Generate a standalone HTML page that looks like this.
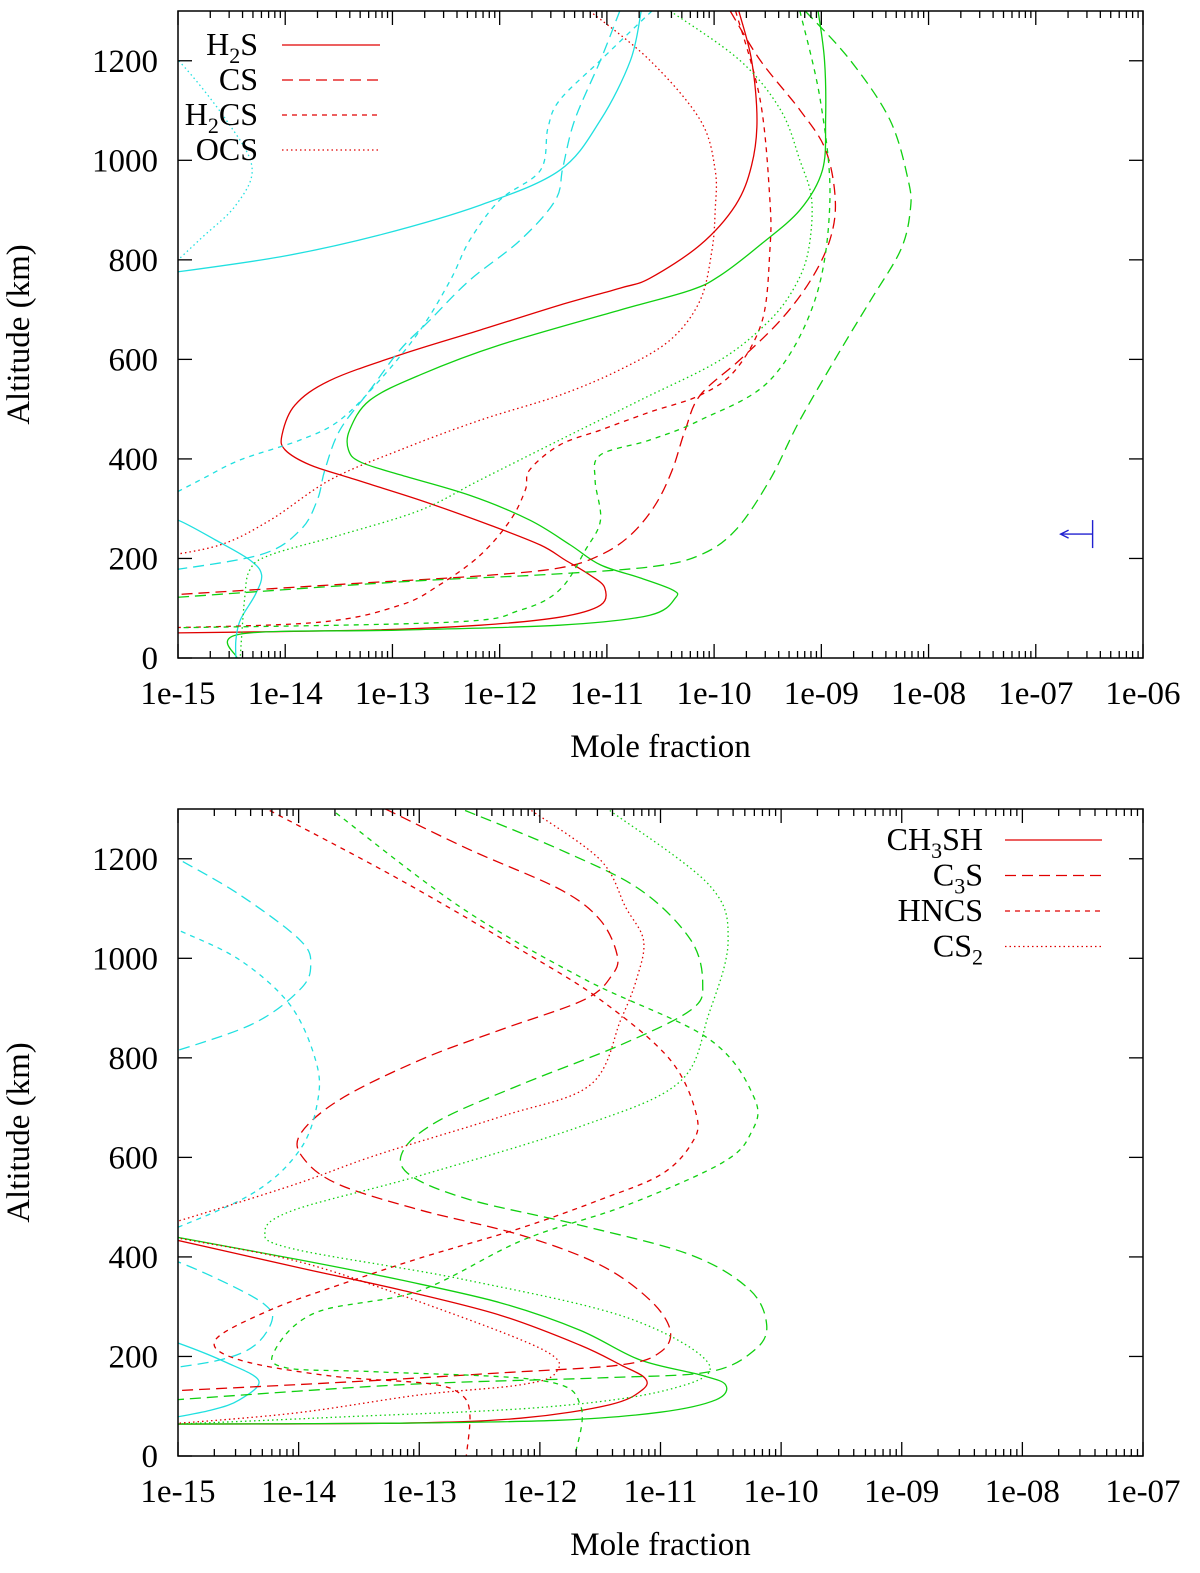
<!DOCTYPE html>
<html><head><meta charset="utf-8"><style>
body{margin:0;background:#fff;}
svg{display:block;font-family:"Liberation Serif",serif;}
</style></head><body>
<svg id="chart" width="1200" height="1573" viewBox="0 0 1200 1573" xmlns="http://www.w3.org/2000/svg"></svg>
<script>
// ---- data: points are [log10(mole fraction), altitude km] ----
const topTicksX = ["1e-15","1e-14","1e-13","1e-12","1e-11","1e-10","1e-09","1e-08","1e-07","1e-06"];
const botTicksX = ["1e-15","1e-14","1e-13","1e-12","1e-11","1e-10","1e-09","1e-08","1e-07"];
const ticksY = [0,200,400,600,800,1000,1200];

const topRedSolid = [[-9.77,1300],[-9.65,1201],[-9.60,1081],[-9.65,990],[-9.80,910],[-10.13,830],[-10.60,763],[-10.88,743],[-11.44,709],[-12.18,659],[-12.93,609],[-13.58,558],[-13.91,508],[-14.03,448],[-14.00,418],[-13.77,388],[-13.40,362],[-12.74,317],[-12.09,267],[-11.62,227],[-11.39,197],[-11.16,167],[-11.02,141],[-11.06,106],[-11.44,82],[-12.18,66],[-13.21,56],[-15.2,50]];
const topGreenSolid = [[-9.03,1300],[-8.97,1201],[-8.96,1081],[-8.99,980],[-9.20,900],[-9.57,830],[-9.94,769],[-10.22,739],[-10.88,699],[-12.00,629],[-12.74,569],[-13.21,518],[-13.40,458],[-13.41,418],[-13.30,394],[-12.93,368],[-12.28,327],[-11.72,277],[-11.34,227],[-11.06,187],[-10.69,161],[-10.39,137],[-10.36,121],[-10.60,86],[-11.44,66],[-12.93,56],[-14.42,48],[-14.45,0]];
const topCyanSolidA = [[-10.68,1300],[-10.78,1201],[-11.06,1081],[-11.44,980],[-12.18,910],[-13.12,850],[-14.05,806],[-15.2,770]];
const topCyanSolidB = [[-15.2,285],[-15,277],[-14.65,237],[-14.33,197],[-14.22,167],[-14.28,127],[-14.42,76],[-14.46,36],[-14.46,0]];
const topRedLong = [[-9.85,1300],[-9.57,1201],[-9.20,1101],[-8.96,1021],[-8.87,920],[-8.92,840],[-9.10,759],[-9.38,679],[-9.76,599],[-10.13,528],[-10.27,458],[-10.39,378],[-10.55,307],[-10.78,247],[-11.06,207],[-11.44,181],[-12.18,165],[-13.40,149],[-15.2,125]];
const topGreenLong = [[-9.15,1300],[-8.73,1201],[-8.36,1081],[-8.19,960],[-8.17,900],[-8.26,820],[-8.54,719],[-8.82,619],[-9.20,478],[-9.48,358],[-9.80,257],[-10.13,207],[-10.60,183],[-11.62,167],[-12.93,153],[-15.2,119]];
const topRedShort = [[-9.80,1300],[-9.57,1121],[-9.48,920],[-9.48,820],[-9.55,679],[-9.80,579],[-10.13,528],[-10.60,494],[-11.06,458],[-11.44,428],[-11.72,378],[-11.76,338],[-11.90,277],[-12.18,207],[-12.56,147],[-12.93,106],[-13.68,72],[-15.2,60]];
const topGreenShort = [[-9.20,1300],[-9.01,1121],[-8.92,920],[-9.06,719],[-9.48,558],[-10.13,478],[-10.60,438],[-11.06,408],[-11.11,358],[-11.06,277],[-11.20,217],[-11.44,137],[-11.81,96],[-12.46,72],[-15.2,60]];
const topCyanLong = [[-10.88,1300],[-11.06,1201],[-11.30,1081],[-11.41,986],[-11.48,920],[-11.81,839],[-12.28,759],[-12.65,679],[-12.93,619],[-13.21,538],[-13.49,458],[-13.63,378],[-13.70,318],[-13.86,257],[-14.24,207],[-15.2,172]];
const topCyanShort = [[-10.58,1300],[-11.06,1201],[-11.44,1121],[-11.55,1065],[-11.62,980],[-12.00,920],[-12.28,839],[-12.46,759],[-12.74,659],[-13.12,558],[-13.49,478],[-13.86,438],[-14.42,398],[-14.79,358],[-15.2,312]];
const topCyanDot = [[-15.2,1230],[-14.98,1197],[-14.55,1081],[-14.31,986],[-14.46,910],[-14.79,842],[-15.2,760]];
const topRedDot = [[-11.16,1300],[-10.60,1201],[-10.13,1081],[-9.99,980],[-9.99,900],[-10.02,820],[-10.13,719],[-10.41,639],[-10.88,579],[-11.44,528],[-12.18,478],[-12.93,418],[-13.58,358],[-14.14,277],[-14.61,227],[-15.2,202]];
const topGreenDot = [[-10.41,1300],[-9.76,1201],[-9.38,1101],[-9.20,1000],[-9.09,920],[-9.12,820],[-9.24,749],[-9.48,679],[-9.94,599],[-10.69,518],[-11.44,438],[-12.18,358],[-12.74,297],[-13.49,247],[-14.14,207],[-14.33,177],[-14.38,117],[-14.42,0]];
const topLimit = [-6.47,249];

const botRedSolid = [[-15.2,444],[-13.99,378],[-13.16,334],[-12.33,283],[-11.67,223],[-11.33,183],[-11.13,157],[-11.15,133],[-11.42,103],[-12.16,76],[-13.16,66],[-15.2,64]];
const botGreenSolid = [[-15.2,448],[-13.99,394],[-13.16,354],[-12.33,308],[-11.67,253],[-11.17,193],[-10.67,163],[-10.46,143],[-10.54,113],[-11.0,88],[-11.83,72],[-13.16,66],[-15.2,64]];
const botCyanSolid = [[-15.2,240],[-15,227],[-14.61,189],[-14.33,151],[-14.49,113],[-14.73,92],[-15.2,70]];
const botRedLong = [[-13.28,1300],[-12.58,1218],[-11.83,1138],[-11.50,1077],[-11.36,1007],[-11.40,967],[-11.63,917],[-12.33,856],[-12.99,796],[-13.66,716],[-13.99,645],[-13.95,595],[-13.66,545],[-12.99,494],[-12.16,444],[-11.50,384],[-11.09,314],[-10.92,253],[-11.0,209],[-11.33,183],[-12.33,167],[-13.57,149],[-15.2,129]];
const botGreenLong = [[-12.62,1297],[-11.83,1218],[-11.17,1138],[-10.75,1037],[-10.65,949],[-10.75,896],[-11.33,826],[-12.16,746],[-12.83,675],[-13.13,615],[-13.08,565],[-12.58,515],[-11.67,464],[-10.75,404],[-10.26,334],[-10.12,263],[-10.22,213],[-10.60,169],[-11.50,157],[-13.16,143],[-15.2,110]];
const botRedShort = [[-14.24,1297],[-13.16,1158],[-12.16,1017],[-11.50,917],[-10.92,796],[-10.70,683],[-10.75,625],[-11.0,565],[-11.50,515],[-12.16,458],[-12.99,398],[-13.66,344],[-14.24,293],[-14.69,233],[-14.49,193],[-13.74,161],[-12.91,145],[-12.65,123],[-12.58,82],[-12.61,0]];
const botGreenShort = [[-13.69,1292],[-12.66,1103],[-11.63,958],[-10.60,838],[-10.22,718],[-10.25,649],[-10.49,589],[-11.29,503],[-12.14,434],[-13.0,332],[-13.86,288],[-14.20,211],[-14.10,177],[-13.34,169],[-11.97,151],[-11.66,99],[-11.71,0]];
const botRedDot = [[-12.07,1297],[-11.50,1198],[-11.29,1103],[-11.14,1035],[-11.20,957],[-11.33,876],[-11.58,746],[-12.31,683],[-13.35,605],[-14.04,545],[-15,472],[-15.3,454],[-15,438],[-13.99,390],[-13.0,310],[-11.97,213],[-11.87,167],[-12.16,143],[-12.99,123],[-14.04,86],[-15.2,62]];
const botGreenDot = [[-11.42,1297],[-10.60,1148],[-10.44,1035],[-10.60,888],[-10.84,752],[-11.63,665],[-13.0,563],[-14.04,494],[-14.28,450],[-14.04,416],[-12.66,356],[-11.29,279],[-10.60,185],[-10.94,133],[-11.97,98],[-13.69,78],[-15.2,62]];
const botCyanLongA = [[-15.2,1230],[-15,1200],[-14.49,1128],[-13.99,1037],[-13.90,987],[-13.99,937],[-14.40,866],[-15.2,800]];
const botCyanShort = [[-15.2,1080],[-15,1057],[-14.49,997],[-14.07,906],[-13.86,796],[-13.84,716],[-13.99,615],[-14.40,525],[-15.2,440]];
const botCyanLongB = [[-15.2,400],[-15,390],[-14.57,344],[-14.28,304],[-14.22,273],[-14.36,223],[-14.65,193],[-15.2,172]];

const RED="#e00000", GREEN="#10d010", CYAN="#20e0e0";
const STY={solid:"none", long:"11,6", short:"5,5", dot:"1.5,3"};

const NS="http://www.w3.org/2000/svg";
const root=document.getElementById("chart");
function mk(tag,attrs,parent){const e=document.createElementNS(NS,tag);for(const k in attrs)e.setAttribute(k,attrs[k]);(parent||root).appendChild(e);return e;}

function smoothPath(pts){
  let d="M"+pts[0][0].toFixed(1)+","+pts[0][1].toFixed(1);
  for(let i=0;i<pts.length-1;i++){
    const p0=pts[i-1]||pts[i],p1=pts[i],p2=pts[i+1],p3=pts[i+2]||p2;
    const c1=[p1[0]+(p2[0]-p0[0])/6,p1[1]+(p2[1]-p0[1])/6];
    const c2=[p2[0]-(p3[0]-p1[0])/6,p2[1]-(p3[1]-p1[1])/6];
    d+=" C"+c1[0].toFixed(1)+","+c1[1].toFixed(1)+" "+c2[0].toFixed(1)+","+c2[1].toFixed(1)+" "+p2[0].toFixed(1)+","+p2[1].toFixed(1);
  }
  return d;
}

function addLegendText(parent,x,y,parts){
  const t=mk("text",{x:x,y:y,"text-anchor":"end","font-size":32},parent);
  parts.forEach(p=>{
    const ts=mk("tspan",{},t);
    if(p.sub){ts.setAttribute("font-size","22");ts.setAttribute("dy","8");}
    else if(p.after){ts.setAttribute("dy","-8");}
    ts.textContent=p.t;
  });
  return t;
}

function panel(p){
  const g=mk("g",{});
  
  
  const x=v=>p.x0+(v-p.xmin)/(p.xmax-p.xmin)*(p.x1-p.x0);
  const y=a=>p.y0-a/1300*(p.y0-p.y1);
  const cid=p.name+"-clip";
  const cp=mk("clipPath",{id:cid},g);
  mk("rect",{x:p.x0,y:p.y1,width:p.x1-p.x0,height:p.y0-p.y1},cp);
  const cg=mk("g",{"clip-path":"url(#"+cid+")"},g);
  p.series.forEach(s=>{
    const path=mk("path",{d:smoothPath(s.data.map(q=>[x(q[0]),y(q[1])])),fill:"none",stroke:s.color,"stroke-width":1.3,"stroke-dasharray":STY[s.style]},cg);
    
    
  });
  const tg=mk("g",{stroke:"#000","stroke-width":1.3},g);
  
  
  for(let e=p.xmin;e<=p.xmax;e++){
    const X=x(e);
    mk("line",{x1:X,y1:p.y0,x2:X,y2:p.y0-14},tg);
    mk("line",{x1:X,y1:p.y1,x2:X,y2:p.y1+14},tg);
    if(e<p.xmax)for(let m=2;m<=9;m++){const Xm=x(e+Math.log10(m));
      mk("line",{x1:Xm,y1:p.y0,x2:Xm,y2:p.y0-7},tg);
      mk("line",{x1:Xm,y1:p.y1,x2:Xm,y2:p.y1+7},tg);}
  }
  p.xlabels.forEach((t,i)=>{
    const tx=mk("text",{x:x(p.xmin+i),y:p.y0+46,"text-anchor":"middle","font-size":33},g);
    tx.textContent=t;
    
    
  });
  ticksY.forEach(v=>{
    const Y=y(v);
    mk("line",{x1:p.x0,y1:Y,x2:p.x0+14,y2:Y},tg);
    mk("line",{x1:p.x1,y1:Y,x2:p.x1-14,y2:Y},tg);
    const tx=mk("text",{x:p.x0-20,y:Y+11,"text-anchor":"end","font-size":33},g);
    tx.textContent=String(v);
    
    
  });
  const fr=mk("rect",{x:p.x0,y:p.y1,width:p.x1-p.x0,height:p.y0-p.y1,fill:"none",stroke:"#000","stroke-width":1.5},g);
  
  
  const xt=mk("text",{x:(p.x0+p.x1)/2,y:p.y0+99,"text-anchor":"middle","font-size":33},g);
  xt.textContent="Mole fraction";
  
  
  const cy=(p.y0+p.y1)/2;
  const yt=mk("text",{x:29,y:cy,"text-anchor":"middle","font-size":33,transform:"rotate(-90 29 "+cy+")"},g);
  yt.textContent="Altitude (km)";
  
  
  p.legend.forEach((L,i)=>{
    const ly=p.legY+i*p.legStep;
    const lg=mk("g",{},g);
    
    
    addLegendText(lg,p.legTextX,ly+10,L.parts);
    mk("line",{x1:p.legLineX0,y1:ly,x2:p.legLineX1,y2:ly,stroke:RED,"stroke-width":1.3,"stroke-dasharray":STY[L.style]},lg);
  });
  return {g,x,y};
}

const topPanel=panel({name:"top-panel",x0:178,x1:1143,y0:658,y1:11,xmin:-15,xmax:-6,xlabels:topTicksX,
  legY:45,legStep:35,legTextX:258,legLineX0:282,legLineX1:380,
  legend:[
    {parts:[{t:"H"},{t:"2",sub:true},{t:"S",after:true}],style:"solid"},
    {parts:[{t:"CS"}],style:"long"},
    {parts:[{t:"H"},{t:"2",sub:true},{t:"CS",after:true}],style:"short"},
    {parts:[{t:"OCS"}],style:"dot"}],
  series:[
    {name:"h2s-red",data:topRedSolid,color:RED,style:"solid"},
    {name:"h2s-green",data:topGreenSolid,color:GREEN,style:"solid"},
    {name:"h2s-cyan-upper",data:topCyanSolidA,color:CYAN,style:"solid"},
    {name:"h2s-cyan-lower",data:topCyanSolidB,color:CYAN,style:"solid"},
    {name:"cs-red",data:topRedLong,color:RED,style:"long"},
    {name:"cs-green",data:topGreenLong,color:GREEN,style:"long"},
    {name:"cs-cyan",data:topCyanLong,color:CYAN,style:"long"},
    {name:"h2cs-red",data:topRedShort,color:RED,style:"short"},
    {name:"h2cs-green",data:topGreenShort,color:GREEN,style:"short"},
    {name:"h2cs-cyan",data:topCyanShort,color:CYAN,style:"short"},
    {name:"ocs-red",data:topRedDot,color:RED,style:"dot"},
    {name:"ocs-green",data:topGreenDot,color:GREEN,style:"dot"},
    {name:"ocs-cyan",data:topCyanDot,color:CYAN,style:"dot"}
  ]});
(function(){
  const X=topPanel.x(topLimit[0]),Y=topPanel.y(topLimit[1]);
  const mg=mk("g",{stroke:"#2020d0","stroke-width":1.4,fill:"none"});
  
  
  mk("line",{x1:X,y1:Y-14,x2:X,y2:Y+14},mg);
  mk("line",{x1:X,y1:Y,x2:X-32,y2:Y},mg);
  mk("path",{d:"M"+(X-24)+","+(Y-4)+" L"+(X-32)+","+Y+" L"+(X-24)+","+(Y+4)},mg);
})();

panel({name:"bottom-panel",x0:178,x1:1143,y0:1456,y1:809,xmin:-15,xmax:-7,xlabels:botTicksX,
  legY:840,legStep:35.5,legTextX:983,legLineX0:1005,legLineX1:1102,
  legend:[
    {parts:[{t:"CH"},{t:"3",sub:true},{t:"SH",after:true}],style:"solid"},
    {parts:[{t:"C"},{t:"3",sub:true},{t:"S",after:true}],style:"long"},
    {parts:[{t:"HNCS"}],style:"short"},
    {parts:[{t:"CS"},{t:"2",sub:true}],style:"dot"}],
  series:[
    {name:"ch3sh-red",data:botRedSolid,color:RED,style:"solid"},
    {name:"ch3sh-green",data:botGreenSolid,color:GREEN,style:"solid"},
    {name:"ch3sh-cyan",data:botCyanSolid,color:CYAN,style:"solid"},
    {name:"c3s-red",data:botRedLong,color:RED,style:"long"},
    {name:"c3s-green",data:botGreenLong,color:GREEN,style:"long"},
    {name:"c3s-cyan-upper",data:botCyanLongA,color:CYAN,style:"long"},
    {name:"c3s-cyan-lower",data:botCyanLongB,color:CYAN,style:"long"},
    {name:"hncs-red",data:botRedShort,color:RED,style:"short"},
    {name:"hncs-green",data:botGreenShort,color:GREEN,style:"short"},
    {name:"hncs-cyan",data:botCyanShort,color:CYAN,style:"short"},
    {name:"cs2-red",data:botRedDot,color:RED,style:"dot"},
    {name:"cs2-green",data:botGreenDot,color:GREEN,style:"dot"}
  ]});
</script>
</body></html>
